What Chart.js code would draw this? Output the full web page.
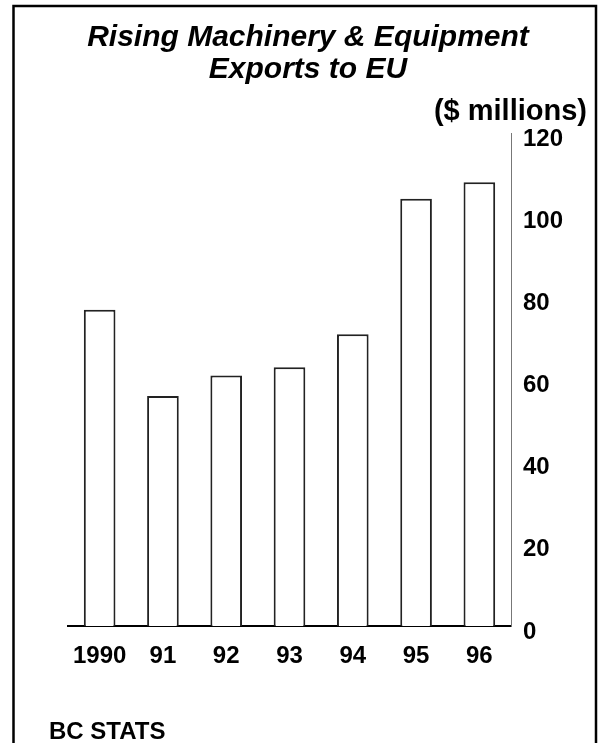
<!DOCTYPE html>
<html>
<head>
<meta charset="utf-8">
<script src="https://cdn.jsdelivr.net/npm/chart.js@4/dist/chart.umd.min.js"></script>
<style>
  html, body { margin: 0; padding: 0; background: #fff; }
  #wrap { width: 600px; height: 743px; position: relative; }
</style>
</head>
<body>
<div id="wrap"><canvas id="c" width="600" height="743"></canvas></div>
<script>
const titleLines = ["Rising Machinery & Equipment", "Exports to EU"];
const unitLabel = "($ millions)";
const sourceLabel = "BC STATS";
const categories = ["1990", "91", "92", "93", "94", "95", "96"];
const exportValues = [77, 56, 61, 63, 71, 104, 108];
const yTicks = [0, 20, 40, 60, 80, 100, 120];

const FONT = "'Liberation Sans', Arial, Helvetica, sans-serif";

const decor = {
  id: 'decor',
  afterDraw(chart) {
    const ctx = chart.ctx;
    ctx.save();
    // frame
    ctx.strokeStyle = '#000';
    ctx.lineWidth = 2.5;
    ctx.beginPath();
    ctx.moveTo(13.5, 760);
    ctx.lineTo(13.5, 6);
    ctx.lineTo(596, 6);
    ctx.lineTo(596, 760);
    ctx.stroke();
    // title
    ctx.fillStyle = '#000';
    ctx.textAlign = 'center';
    ctx.textBaseline = 'alphabetic';
    ctx.font = "italic bold 30px " + FONT;
    ctx.fillText(titleLines[0], 308, 46);
    ctx.fillText(titleLines[1], 308, 78);
    // unit label
    ctx.font = "bold 29px " + FONT;
    ctx.textAlign = 'right';
    ctx.fillText(unitLabel, 587, 120);
    // source
    ctx.font = "bold 24px " + FONT;
    ctx.textAlign = 'left';
    ctx.fillText(sourceLabel, 49, 739);
    ctx.restore();
  }
};

new Chart(document.getElementById('c'), {
  type: 'bar',
  data: {
    labels: categories,
    datasets: [{
      data: exportValues,
      backgroundColor: '#ffffff',
      borderColor: '#222222',
      borderWidth: 2,
      barPercentage: 0.5,
      categoryPercentage: 1.0
    }]
  },
  options: {
    responsive: false,
    animation: false,
    devicePixelRatio: 1,
    layout: { padding: { top: 133, left: 68, right: 0, bottom: 0 } },
    plugins: {
      legend: { display: false },
      tooltip: { enabled: false },
      title: { display: false }
    },
    scales: {
      x: {
        offset: true,
        grid: { display: false, drawTicks: false },
        border: { display: true, color: '#000', width: 2 },
        ticks: {
          color: '#000',
          padding: 16,
          maxRotation: 0,
          font: { family: FONT, size: 24, weight: 'bold' }
        },
        afterFit(scale) { scale.height = 117; }
      },
      y: {
        position: 'right',
        min: 0,
        max: 120,
        afterBuildTicks(scale) { scale.ticks = yTicks.map(v => ({ value: v })); },
        grid: { display: false, drawTicks: false },
        border: { display: true, color: '#777', width: 1 },
        ticks: {
          color: '#000',
          padding: 12,
          labelOffset: 6,
          font: { family: FONT, size: 24, weight: 'bold' }
        },
        afterFit(scale) { scale.width = 89; }
      }
    }
  },
  plugins: [decor]
});
</script>
</body>
</html>
